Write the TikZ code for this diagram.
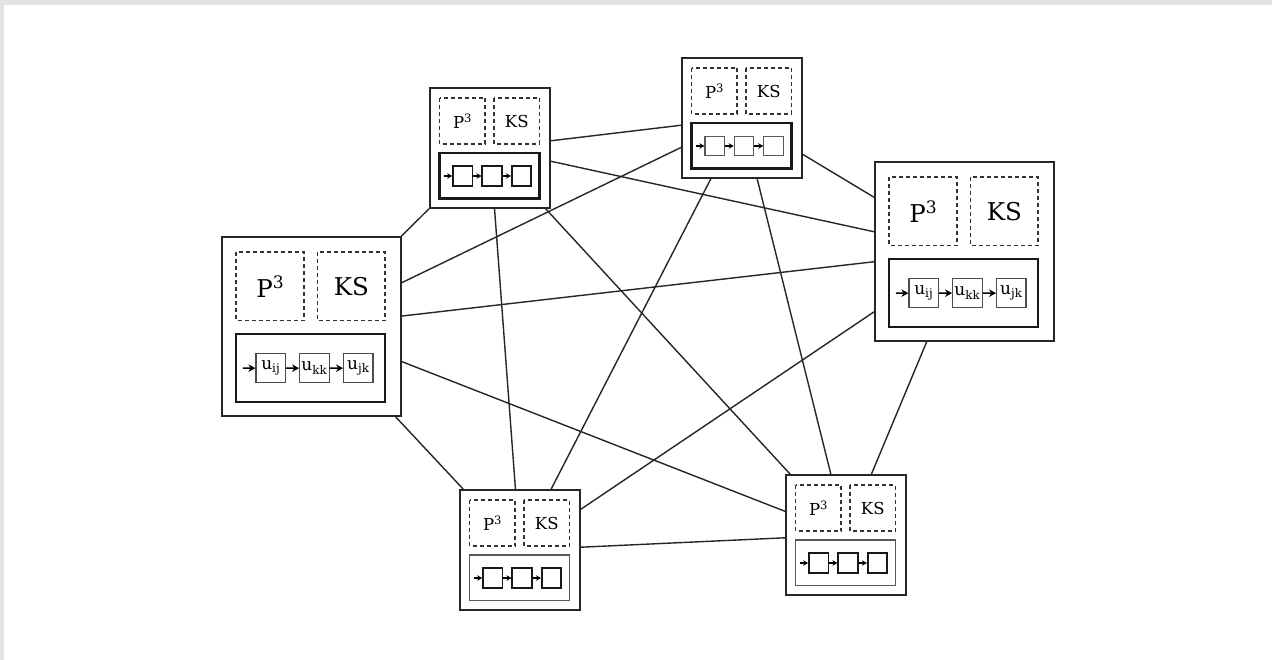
\documentclass[tikz,border=0pt]{standalone}
\usepackage{fontspec}
\setmainfont{DejaVu Serif}
\usetikzlibrary{arrows.meta}
\definecolor{framegray}{HTML}{E2E4E2}
\tikzset{
  outerbox/.style={draw=black!85, line width=1.8pt, rectangle, inner sep=0pt, fill=white},
  dashbox/.style={draw=black!80, line width=1.5pt, dash pattern=on 4pt off 3pt},
  listbox/.style={draw=black!90, line width=2.1pt},
  lightlist/.style={listbox/.style={draw=black!65, line width=1.3pt}},
  lightcells/.style={cell-s/.append style={draw=black!65, line width=1.1pt}},
  link/.style={draw=black!85, line width=1.4pt},
  lbl-s/.style={font=\fontsize{16.5}{18}\selectfont, inner sep=0pt},
  lbl-b/.style={font=\fontsize{24.5}{28}\selectfont, inner sep=0pt},
  cell-s/.style={draw=black!90, line width=1.6pt, rectangle, inner sep=0pt, minimum size=19.5pt},
  cell-b/.style={draw=black!70, line width=1.2pt, rectangle, inner sep=0pt, minimum size=29.5pt, font=\fontsize{17}{19}\selectfont},
  feed-s/.style={-{Stealth[length=5pt,width=5.5pt]}, line width=1.2pt},
  feed-b/.style={-{Stealth[length=7pt,width=7.5pt]}, line width=1.6pt},
}
% #1 name, #2 left, #3 top, #4 scale, #5 s/b, #6 #7 #8 cell labels
\newcommand\netunit[8]{%
  \begin{scope}[shift={(#2,#3)}, scale=#4]
    \node[outerbox, minimum width=#4*120pt, minimum height=#4*120pt] (#1) at (60,60) {};
    \draw[dashbox] (9.5,10) rectangle (55,56);
    \draw[dashbox] (64,10) rectangle (109.5,56);
    \node[lbl-#5] (#1-p) at (32.5,33.5) {P\textsuperscript{3}};
    \node[lbl-#5] (#1-k) at (86.8,33.5) {KS};
    \draw[listbox] (9.5,65) rectangle (109.5,110.5);
    \coordinate (#1-in) at (14,88);
    \node[cell-#5] (#1-c1) at (32.7,88) {#6};
    \node[cell-#5] (#1-c2) at (62,88) {#7};
    \node[cell-#5] (#1-c3) at (91.5,88) {#8};
    \draw[feed-#5] (#1-in) -- (#1-c1);
    \draw[feed-#5] (#1-c1) -- (#1-c2);
    \draw[feed-#5] (#1-c2) -- (#1-c3);
  \end{scope}}
\begin{document}
\begin{tikzpicture}[x=1pt, y=-1pt]
  \useasboundingbox (0,0) rectangle (1272,660);
  \fill[white] (0,0) rectangle (1272,660);
  \fill[framegray] (0,0) rectangle (1272,5);
  \fill[framegray] (0,0) rectangle (4,660);

  \netunit{A}{222}{237}{1.49}{b}{u\textsubscript{ij}}{u\textsubscript{kk}}{u\textsubscript{jk}}
  \netunit{B}{875}{162}{1.49}{b}{u\textsubscript{ij}}{u\textsubscript{kk}}{u\textsubscript{jk}}
  \netunit{C}{430}{88}{1}{s}{}{}{}
  \begin{scope}[lightcells]
    \netunit{D}{682}{58}{1}{s}{}{}{}
  \end{scope}
  \begin{scope}[lightlist]
    \netunit{E}{460}{490}{1}{s}{}{}{}
    \netunit{F}{786}{475}{1}{s}{}{}{}
  \end{scope}

  \foreach \p/\q in {A/B, A/C, A/D, A/E, A/F, B/C, B/D, B/E, B/F, C/D, C/E, C/F, D/E, D/F, E/F}
    \draw[link] (\p) -- (\q);
\end{tikzpicture}
\end{document}
